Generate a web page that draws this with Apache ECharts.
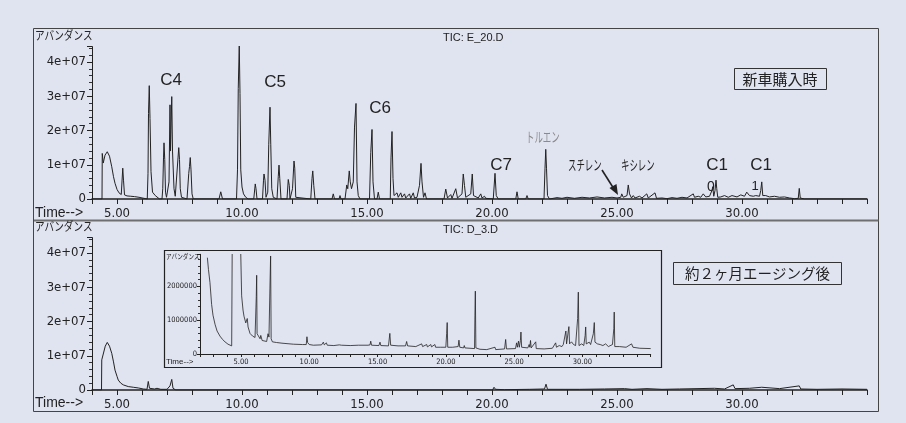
<!DOCTYPE html>
<html><head><meta charset="utf-8">
<script src="https://cdn.jsdelivr.net/npm/echarts@6/dist/echarts.min.js"></script>
<style>html,body{margin:0;padding:0;background:#e0e4f0}#c{width:906px;height:423px}</style>
</head><body><div id="c"></div>
<script>
// Retention time (min), abundance in millions (x1e6)
const topTrace = [[4.0,0],[4.40,0],[4.41,13.3],[4.45,10.5],[4.52,12.8],[4.61,13.8],[4.70,12.5],[4.79,9.4],[4.86,6.5],[4.92,4.6],[5.00,2.8],[5.08,1.8],[5.17,1.3],[5.21,1.6],[5.23,9.0],[5.26,5.5],[5.30,1.2],[5.40,0.9],[5.55,0.8],[5.70,0.7],[5.88,0.5],[5.95,0.1],[6.21,0],[6.24,7.5],[6.26,25],[6.29,33.1],[6.32,23.5],[6.36,8],[6.42,2],[6.47,1.5],[6.50,2.0],[6.53,1.0],[6.57,1.5],[6.60,0.5],[6.70,0],[6.80,0],[6.83,3],[6.86,12],[6.88,16.4],[6.91,11.5],[6.94,2],[6.98,0.5],[7.05,0.5],[7.08,5],[7.12,27.5],[7.14,14],[7.19,29.9],[7.22,14],[7.25,13.5],[7.28,3],[7.33,0.8],[7.40,1],[7.44,12],[7.47,15],[7.50,11.5],[7.53,3],[7.58,0.5],[7.80,0],[7.87,7.5],[7.90,9.5],[7.93,12.1],[7.96,8.5],[8.00,1.5],[8.05,0],[9.08,0],[9.15,2.1],[9.22,0],[9.78,0],[9.82,8.5],[9.85,32.3],[9.89,44.8],[9.92,30.8],[9.95,8.5],[10.00,3.5],[10.06,1.5],[10.15,0.5],[10.25,0],[10.47,0],[10.53,4.4],[10.56,3.0],[10.60,0],[10.82,0],[10.86,5.5],[10.88,7.3],[10.92,5.5],[10.96,0.5],[11.03,2],[11.07,16],[11.12,26.8],[11.15,16],[11.19,3],[11.25,0.5],[11.40,0],[11.45,6.5],[11.48,9.9],[11.51,6],[11.56,0],[11.80,0],[11.85,5.7],[11.89,4],[11.92,0],[12.02,3],[12.08,11.1],[12.11,9],[12.15,0.5],[12.75,0],[12.80,6],[12.83,8.2],[12.87,4],[12.92,0],[13.60,0],[13.65,1.5],[13.70,0],[13.88,0],[13.92,1.0],[13.96,0],[14.12,0],[14.19,4.1],[14.23,3],[14.29,8.2],[14.33,5],[14.38,3],[14.45,5],[14.50,21],[14.56,27.9],[14.60,5],[14.65,1],[14.72,0],[15.10,0],[15.15,13.5],[15.20,20.3],[15.24,5],[15.30,0],[15.40,0],[15.45,2],[15.50,0],[15.93,0],[15.96,12],[16.00,19.7],[16.04,6],[16.08,1],[16.15,0.5],[16.20,1.8],[16.25,0.5],[16.35,1.8],[16.40,0.5],[16.50,1.5],[16.55,0.3],[16.70,1.5],[16.75,0.2],[16.85,1.8],[16.90,0.3],[17.00,0.5],[17.10,4],[17.16,10.4],[17.20,5],[17.26,0.5],[17.32,1.8],[17.38,0],[18.08,0],[18.15,2.9],[18.22,0.3],[18.35,1.3],[18.40,0.2],[18.55,3.0],[18.62,0.3],[18.80,1.5],[18.85,7.3],[18.90,3.9],[18.95,0.5],[19.15,1.5],[19.21,7.3],[19.26,1],[19.45,0.3],[19.55,1.5],[19.60,0.3],[19.70,0.8],[19.75,0.2],[20.05,0],[20.12,7.5],[20.17,1],[20.25,0],[20.95,0],[21.00,2.1],[21.05,0],[21.35,0],[21.40,1.0],[21.45,0],[22.08,0],[22.12,9],[22.15,14.5],[22.18,9],[22.22,1],[22.30,0],[22.60,0.4],[22.80,0.2],[23.00,0.5],[23.30,0.2],[23.60,0.5],[23.90,0.3],[24.20,0.6],[24.50,0.3],[24.80,0.5],[25.00,0.3],[25.15,0.5],[25.19,1.5],[25.25,0.5],[25.40,1],[25.45,4.1],[25.50,1.5],[25.58,0.3],[25.65,1.0],[25.72,0.3],[25.90,0.8],[26.00,0.3],[26.19,1.5],[26.25,0.3],[26.52,1.8],[26.58,0.2],[26.80,0.3],[27.00,0.1],[27.20,0.4],[27.40,0.2],[27.60,0.5],[27.80,0.3],[28.05,1.5],[28.10,0.5],[28.25,0.8],[28.35,0.5],[28.45,1.5],[28.55,0.6],[28.70,0.8],[28.80,2.5],[28.83,3.6],[28.87,0.8],[28.92,2.5],[28.96,5.5],[28.99,3.0],[29.03,0.5],[29.15,0.6],[29.30,1.0],[29.45,0.5],[29.60,1.0],[29.80,0.6],[29.95,1.2],[30.10,0.8],[30.19,2.0],[30.30,1.0],[30.45,0.8],[30.55,1.0],[30.70,0.8],[30.75,2.5],[30.79,5.0],[30.83,1.0],[30.95,1.0],[31.10,0.6],[31.30,0.8],[31.50,0.5],[31.70,0.6],[31.90,0.3],[32.10,0.1],[32.25,0.2],[32.29,3.1],[32.33,0.3],[32.50,0],[35.00,0]];

const bottomTrace = [[4.0,0],[4.38,0],[4.39,8.8],[4.45,10.5],[4.53,12.8],[4.61,13.9],[4.70,12.8],[4.79,10.7],[4.86,8.2],[4.92,5.8],[5.00,4.0],[5.05,2.9],[5.15,2.0],[5.25,1.5],[5.45,1.0],[5.65,0.8],[5.85,0.6],[6.05,0.3],[6.20,0.2],[6.25,2.5],[6.30,0.5],[6.50,0.3],[6.60,0.5],[6.75,0.2],[7.00,0.2],[7.12,1.2],[7.19,3.1],[7.24,0.5],[7.35,0],[20.02,0],[20.08,0.8],[20.14,0.2],[20.50,0.1],[21.50,0.2],[22.10,0.3],[22.16,1.7],[22.22,0.2],[23.50,0.2],[24.50,0.3],[25.30,0.4],[25.60,0.2],[26.20,0.4],[26.80,0.2],[27.50,0.3],[28.20,0.4],[28.90,0.5],[29.30,0.3],[29.65,1.5],[29.72,0.4],[30.30,0.5],[30.79,0.8],[30.85,0.3],[31.50,0.4],[32.29,1.2],[32.35,0.3],[33.00,0.2],[34.00,0.3],[35.00,0.2]];

const insetTrace = [[2.54,2.85],[2.62,2.5],[2.73,2.11],[2.85,1.47],[2.95,1.15],[3.10,0.88],[3.25,0.68],[3.46,0.53],[3.65,0.43],[3.83,0.36],[4.05,0.29],[4.32,0.24],[4.36,0.24],[4.37,4.0],[4.93,4.0],[5.05,1.72],[5.15,1.3],[5.22,1.12],[5.35,0.92],[5.40,0.9],[5.46,1.05],[5.52,0.8],[5.66,0.61],[5.85,0.53],[6.03,0.49],[6.10,0.5],[6.12,1.7],[6.15,2.33],[6.18,0.6],[6.30,0.55],[6.40,0.45],[6.45,0.55],[6.55,0.4],[6.65,0.45],[6.88,0.37],[6.98,0.6],[7.05,0.5],[7.12,1.95],[7.17,2.9],[7.21,0.45],[7.30,0.36],[7.60,0.34],[8.00,0.32],[8.83,0.29],[9.50,0.28],[9.78,0.28],[9.83,0.51],[9.88,0.34],[10.00,0.28],[10.30,0.26],[10.90,0.27],[11.03,0.35],[11.10,0.27],[11.25,0.33],[11.32,0.26],[11.80,0.25],[12.20,0.27],[12.25,0.3],[12.35,0.26],[13.00,0.25],[13.60,0.26],[14.30,0.26],[14.45,0.27],[14.50,0.38],[14.56,0.26],[15.10,0.25],[15.18,0.35],[15.24,0.25],[15.80,0.24],[15.90,0.61],[15.96,0.26],[16.50,0.24],[17.05,0.24],[17.13,0.37],[17.20,0.24],[17.80,0.22],[18.23,0.3],[18.30,0.22],[18.60,0.28],[18.65,0.21],[18.90,0.28],[18.95,0.21],[19.20,0.28],[19.25,0.2],[19.60,0.2],[20.00,0.2],[20.06,0.6],[20.10,0.93],[20.14,0.2],[20.50,0.2],[20.90,0.22],[20.96,0.41],[21.02,0.2],[21.30,0.18],[21.35,0.25],[21.40,0.18],[22.10,0.16],[22.13,1.15],[22.16,1.86],[22.20,0.18],[22.50,0.14],[23.00,0.13],[23.60,0.2],[23.65,0.13],[24.30,0.15],[24.38,0.43],[24.44,0.15],[25.10,0.16],[25.18,0.33],[25.24,0.2],[25.32,0.38],[25.38,0.2],[25.46,0.4],[25.50,0.65],[25.55,0.2],[26.00,0.18],[26.10,0.28],[26.15,0.2],[26.20,0.4],[26.25,0.18],[26.58,0.36],[26.62,0.16],[27.20,0.15],[27.80,0.17],[28.04,0.33],[28.10,0.2],[28.30,0.25],[28.50,0.22],[28.60,0.28],[28.70,0.24],[28.79,0.68],[28.84,0.3],[28.90,0.35],[29.01,0.81],[29.06,0.3],[29.20,0.36],[29.35,0.28],[29.50,0.25],[29.65,1.05],[29.70,1.83],[29.75,0.25],[29.95,0.3],[30.10,0.25],[30.20,0.55],[30.24,0.8],[30.28,0.3],[30.50,0.35],[30.60,0.28],[30.80,0.6],[30.87,0.93],[30.92,0.35],[31.10,0.3],[31.30,0.28],[31.50,0.25],[31.70,0.3],[31.90,0.22],[32.20,0.28],[32.30,0.75],[32.33,1.24],[32.37,0.22],[32.70,0.22],[33.20,0.2],[33.60,0.3],[33.70,0.2],[34.20,0.17],[35.00,0.16]];

const mainYTicks = [0, 1e7, 2e7, 3e7, 4e7];
const insetYTicks = [0, 1e6, 2e6];
const timeLabels = [5, 10, 15, 20, 25, 30];
const peakLabels = [
  {text:'C4', x:171, y:80}, {text:'C5', x:275, y:82}, {text:'C6', x:380, y:108},
  {text:'C7', x:501, y:165}, {text:'C1', x:717, y:165}, {text:'C1', x:761, y:165}
];

const M = 1e6;
const toData = tr => tr.map(p => [p[0], p[1] * M]);

const NARROW = '"Liberation Sans Narrow","DejaVu Sans Condensed","Liberation Sans",Arial,sans-serif';
const SANS = '"Liberation Sans",Arial,sans-serif';
const JP = '"Noto Sans CJK JP",sans-serif';
const INK = '#222';

function xAxisCfg(gi, min, fs, margin) {
  return {
    type:'value', gridIndex:gi, min:min, max:35, interval:1,
    axisLine:{show:true, onZero:false, lineStyle:{color:INK, width:gi===2?1:1.5}},
    axisTick:{show:true, length:gi===2?3:5, lineStyle:{color:INK}},
    splitLine:{show:false},
    axisLabel:{margin:margin, fontSize:fs, fontFamily:NARROW, color:INK, hideOverlap:false,
      formatter:v => timeLabels.indexOf(Math.round(v*1000)/1000) >= 0 ? v.toFixed(2) : ''}
  };
}
function yAxisCfg(gi, max, interval, ticks, fs, fmt, margin) {
  return {
    type:'value', gridIndex:gi, min:0, max:max, interval:interval,
    axisLine:{show:true, lineStyle:{color:INK, width:1}},
    axisTick:{show:true, length:gi===2?3:5, lineStyle:{color:INK}},
    minorTick:{show:true, splitNumber:5, length:gi===2?2:3, lineStyle:{color:'#333', width:1}},
    splitLine:{show:false},
    axisLabel:{margin:margin, fontSize:fs, fontFamily:NARROW, color:INK, showMaxLabel:true,
      formatter:v => ticks.indexOf(v) >= 0 ? fmt(v) : ''}
  };
}
const eFmt = v => v === 0 ? '0' : (v/1e7) + 'e+07';
const plainFmt = v => String(v);

function txt(text, x, y, font, opt) {
  opt = opt || {};
  return {type:'text', x:x, y:y, scaleX:opt.sx||1, z:10, silent:true,
    style:{text:text, font:font, fill:opt.fill||INK, align:opt.align||'left', verticalAlign:'middle'}};
}

const graphics = [
  {type:'rect', z:1, silent:true, shape:{x:33.5, y:28.5, width:845, height:383}, style:{fill:null, stroke:'#444', lineWidth:1}},
  {type:'line', z:1, silent:true, shape:{x1:34, y1:220.5, x2:878.5, y2:220.5}, style:{stroke:'#6f6f6f', lineWidth:2}},
  {type:'rect', z:1, silent:true, shape:{x:164.5, y:250.5, width:497, height:117}, style:{fill:null, stroke:'#222', lineWidth:1.2}},
  txt('アバンダンス', 35, 35, '12px '+JP, {sx:0.8}),
  txt('アバンダンス', 35, 226, '12px '+JP, {sx:0.8}),
  txt('アバンダンス', 166, 256, '7px '+JP, {sx:0.8}),
  txt('TIC: E_20.D', 443, 38, '11px '+SANS),
  txt('TIC: D_3.D', 443, 230, '11px '+SANS),
  txt('Time-->', 35, 213, '14px '+SANS),
  txt('Time-->', 35, 403, '14px '+SANS),
  txt('Time-->', 166, 362, '8px '+SANS),
  {type:'rect', z:5, silent:true, shape:{x:734.5, y:68.5, width:92, height:21}, style:{fill:null, stroke:'#333', lineWidth:1}},
  txt('新車購入時', 780, 79.5, '15px '+JP, {align:'center'}),
  {type:'rect', z:5, silent:true, shape:{x:673.5, y:262.5, width:168, height:22}, style:{fill:null, stroke:'#333', lineWidth:1}},
  txt('約２ヶ月エージング後', 757.5, 273.5, '14.5px '+JP, {align:'center'}),
  txt('トルエン', 526, 137, '14px '+JP, {sx:0.6, fill:'#8a8a8a'}),
  txt('スチレン', 568, 165, '14px '+JP, {sx:0.6}),
  txt('キシレン', 621, 165, '14px '+JP, {sx:0.6}),
  txt('0', 711, 187, '14px '+SANS, {align:'center'}),
  txt('1', 755, 186, '13px '+SANS, {align:'center'}),
  {type:'line', z:10, silent:true, shape:{x1:602, y1:170, x2:614, y2:189}, style:{stroke:'#222', lineWidth:1.6}},
  {type:'polygon', z:10, silent:true, shape:{points:[[618,195],[609.5,188],[616.5,184]]}, style:{fill:'#222'}}
];
peakLabels.forEach(p => graphics.push(txt(p.text, p.x, p.y, '17px '+SANS, {align:'center'})));

const chart = echarts.init(document.getElementById('c'), null, {renderer:'canvas'});
chart.setOption({
  backgroundColor:'#e0e4f0',
  animation:false,
  grid:[
    {left:92, top:46.6, width:775, height:152.4},
    {left:92, top:237.6, width:775, height:152.4},
    {left:200, top:254.3, width:450.7, height:99.7}
  ],
  xAxis:[xAxisCfg(0, 4, 13, 8), xAxisCfg(1, 4, 13, 8), xAxisCfg(2, 2, 7.5, 4)],
  yAxis:[
    yAxisCfg(0, 4.45e7, 1e7, mainYTicks, 13, eFmt, 6),
    yAxisCfg(1, 4.45e7, 1e7, mainYTicks, 13, eFmt, 6),
    yAxisCfg(2, 2.95e6, 1e6, insetYTicks, 7.5, plainFmt, 3)
  ],
  series:[
    {type:'line', xAxisIndex:0, yAxisIndex:0, data:toData(topTrace), showSymbol:false, clip:true, lineStyle:{color:INK, width:1}},
    {type:'line', xAxisIndex:1, yAxisIndex:1, data:toData(bottomTrace), showSymbol:false, clip:true, lineStyle:{color:INK, width:1}},
    {type:'line', xAxisIndex:2, yAxisIndex:2, data:toData(insetTrace), showSymbol:false, clip:true, lineStyle:{color:INK, width:0.8}}
  ],
  graphic:graphics
});
</script></body></html>
